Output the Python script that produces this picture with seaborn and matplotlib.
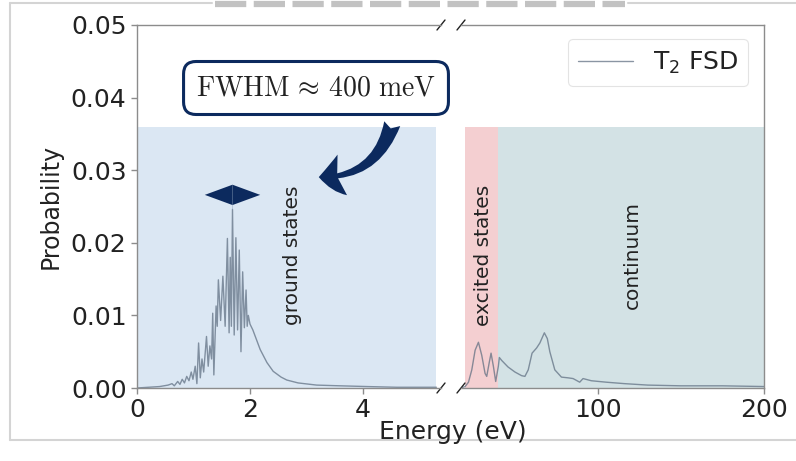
import matplotlib
matplotlib.use("Agg")
import matplotlib.pyplot as plt
import pandas as pd
import seaborn as sns
from matplotlib.patches import FancyArrowPatch

# T2 final-state distribution, ground-state band (eV, probability)
ground_energy = [0.00, 0.20, 0.40, 0.55, 0.62, 0.66, 0.72, 0.76, 0.80, 0.84,
                 0.88, 0.92, 0.96, 0.99, 1.03, 1.06, 1.09, 1.12, 1.15, 1.18,
                 1.23, 1.26, 1.29, 1.32, 1.34, 1.36, 1.40, 1.42, 1.44, 1.48,
                 1.52, 1.56, 1.60, 1.63, 1.65, 1.67, 1.69, 1.72, 1.75, 1.78,
                 1.81, 1.84, 1.87, 1.90, 1.93, 1.95, 1.97, 2.00, 2.05, 2.18,
                 2.30, 2.41, 2.55, 2.65, 2.85, 3.18, 3.60, 4.07, 4.60, 5.30]
ground_prob = [0.0000, 0.0001, 0.0002, 0.0004, 0.0006, 0.0003, 0.0009, 0.0005, 0.0012, 0.0007,
               0.0016, 0.0010, 0.0022, 0.0012, 0.0030, 0.0006, 0.0062, 0.0014, 0.0040, 0.0022,
               0.0071, 0.0030, 0.0058, 0.0040, 0.0103, 0.0018, 0.0113, 0.0085, 0.0149, 0.0093,
               0.0154, 0.0085, 0.0206, 0.0076, 0.0180, 0.0085, 0.0246, 0.0073, 0.0207, 0.0080,
               0.0190, 0.0050, 0.0160, 0.0083, 0.0135, 0.0085, 0.0100, 0.0088, 0.0080, 0.0053,
               0.0035, 0.0023, 0.0015, 0.0011, 0.0007, 0.0004, 0.0003, 0.0002, 0.0001, 0.0001]

# Excited states and continuum (eV, probability)
high_energy = [17.5, 20, 22, 24, 26, 28, 30, 32, 33, 34.5,
               35.6, 37, 38.4, 40, 40.6, 42, 45.8, 50, 54, 56,
               58, 60.3, 63, 65, 67.7, 69.5, 71, 74, 78, 82,
               85, 89, 91, 96, 105, 116, 130, 150, 175, 200]
high_prob = [0.0000, 0.0002, 0.0008, 0.0025, 0.0052, 0.0063, 0.0045, 0.0020, 0.0016, 0.0035,
             0.0048, 0.0030, 0.0009, 0.0030, 0.0042, 0.0038, 0.0029, 0.0022, 0.0017, 0.0016,
             0.0025, 0.0048, 0.0055, 0.0062, 0.0076, 0.0068, 0.0050, 0.0025, 0.0015, 0.0014,
             0.0013, 0.0008, 0.0013, 0.0010, 0.0008, 0.0006, 0.0004, 0.0003, 0.0003, 0.0002]

# Shaded regions: (start eV, end eV)
ground_span = (0.0, 5.3)
excited_span = (20.0, 40.0)
continuum_span = (40.0, 200.0)
span_top = 0.036

peak_energy = 1.69
peak_prob = 0.0246
fwhm_label = r"$\mathrm{FWHM}\,\approx\,400\ \mathrm{meV}$"
legend_label = r"T$_2$ FSD"

ground_df = pd.DataFrame({"Energy": ground_energy, "Probability": ground_prob})
high_df = pd.DataFrame({"Energy": high_energy, "Probability": high_prob})

sns.set_style("white")
plt.rcParams["font.family"] = ["DejaVu Sans"]
plt.rcParams["mathtext.fontset"] = "cm"

W, H = 796, 461
fig = plt.figure(figsize=(W / 100, H / 100), dpi=100)

def frac(x0, y0, x1, y1):
    return [x0 / W, 1 - y1 / H, (x1 - x0) / W, (y1 - y0) / H]

ax1 = fig.add_axes(frac(137, 25, 441, 388))
ax2 = fig.add_axes(frac(461, 25, 764, 388))

line_kw = dict(color="#5d6d80", alpha=0.72, linewidth=1.0, estimator=None)
blue, pink, teal, navy = "#dbe7f3", "#f4cfd1", "#d3e2e5", "#0c2a5e"

ax1.fill_between(ground_span, 0, span_top, color=blue, linewidth=0, zorder=0)
ax2.fill_between(excited_span, 0, span_top, color=pink, linewidth=0, zorder=0)
ax2.fill_between(continuum_span, 0, span_top, color=teal, linewidth=0, zorder=0)

sns.lineplot(data=ground_df, x="Energy", y="Probability", ax=ax1, **line_kw)
sns.lineplot(data=high_df, x="Energy", y="Probability", ax=ax2,
             label=legend_label, **line_kw)

ax1.set_xlim(0, 5.38)
ax2.set_xlim(17.5, 200)
for ax in (ax1, ax2):
    ax.set_ylim(0, 0.05)
    ax.set_xlabel("")
    ax.set_ylabel("")
    for s in ax.spines.values():
        s.set_color("#8c8c8c")
        s.set_linewidth(1.0)
    ax.tick_params(axis="both", labelsize=18, colors="#8c8c8c",
                   labelcolor="#222222", length=4, width=1, direction="out")

ax1.set_xticks([0, 2, 4])
ax1.set_yticks([0.0, 0.01, 0.02, 0.03, 0.04, 0.05])
ax1.set_yticklabels([f"{v:.2f}" for v in [0.0, 0.01, 0.02, 0.03, 0.04, 0.05]])
ax1.spines["right"].set_visible(False)
ax1.tick_params(axis="x", bottom=True)
ax1.tick_params(axis="y", left=True)
ax1.set_ylabel("Probability", fontsize=17, color="#222222", labelpad=6)

ax2.set_xticks([100, 200])
ax2.set_yticks([])
ax2.spines["left"].set_visible(False)
ax2.tick_params(axis="x", bottom=True)

fig.text(453 / W, 1 - 432 / H, "Energy (eV)",
         ha="center", va="center", fontsize=18, color="#222222")

# broken-axis marks
dx1, dy1 = 4 / 304, 5 / 363
dx2 = 4 / 303
mark = dict(color="#222222", linewidth=1.0, clip_on=False)
for yy in (0, 1):
    ax1.plot([1 - dx1, 1 + dx1], [yy - dy1, yy + dy1], transform=ax1.transAxes, **mark)
    ax2.plot([-dx2, dx2], [yy - dy1, yy + dy1], transform=ax2.transAxes, **mark)

# region labels
txt = dict(rotation=90, ha="center", va="center", fontsize=14.5, color="#222222")
ax1.text(2.76, 0.0183, "ground states", **txt)
ax2.text(30.8, 0.0183, "excited states", **txt)
ax2.text(120.5, 0.0183, "continuum", **txt)

# FWHM marker at the main peak
half_w, half_h = 0.49, 0.0014
cy = peak_prob + 0.002
ax1.fill([peak_energy - half_w, peak_energy, peak_energy + half_w, peak_energy],
         [cy, cy + half_h, cy, cy - half_h], color=navy, zorder=5, linewidth=0)
ax1.plot([peak_energy, peak_energy], [peak_prob, cy + half_h], color="#8fa2ba",
         linewidth=0.6, alpha=0.5, zorder=6)

fig.text(316 / W, 1 - 88 / H, fwhm_label, ha="center", va="center", fontsize=20,
         color="#222222",
         bbox=dict(boxstyle="round,pad=0.45,rounding_size=0.45", facecolor="white",
                   edgecolor=navy, linewidth=2.2))

arrow = FancyArrowPatch((393 / W, 1 - 121 / H), (316 / W, 1 - 177 / H),
                        transform=fig.transFigure,
                        connectionstyle="arc3,rad=-0.4",
                        arrowstyle="fancy,head_length=17,head_width=30,tail_width=12",
                        mutation_scale=1, color=navy, linewidth=0, zorder=10)
fig.patches.append(arrow)

leg = ax2.legend(loc="upper right", fontsize=18, frameon=True, handlelength=2.2,
                 borderpad=0.4, bbox_to_anchor=(0.99, 0.995))
leg.get_frame().set_edgecolor("#dddddd")
leg.get_frame().set_linewidth(0.8)
for t in leg.get_texts():
    t.set_color("#222222")
    t.set_math_fontfamily("dejavusans")

# light outer frame
frame = dict(color="#d4d4d4", linewidth=1.5, transform=fig.transFigure)
fig.lines.append(plt.Line2D([10 / W, 10 / W], [1 - 3 / H, 1 - 440 / H], **frame))
fig.lines.append(plt.Line2D([10 / W, 1], [1 - 440 / H, 1 - 440 / H], **frame))
fig.lines.append(plt.Line2D([10 / W, 212 / W], [1 - 3 / H, 1 - 3 / H], **frame))
fig.lines.append(plt.Line2D([628 / W, 1], [1 - 3 / H, 1 - 3 / H], **frame))
fig.lines.append(plt.Line2D([215 / W, 625 / W], [1 - 4 / H, 1 - 4 / H],
                            color="#c2c2c2", linewidth=4.5, dashes=(5, 1.2),
                            transform=fig.transFigure))

fig.savefig("out.png", dpi=100)
